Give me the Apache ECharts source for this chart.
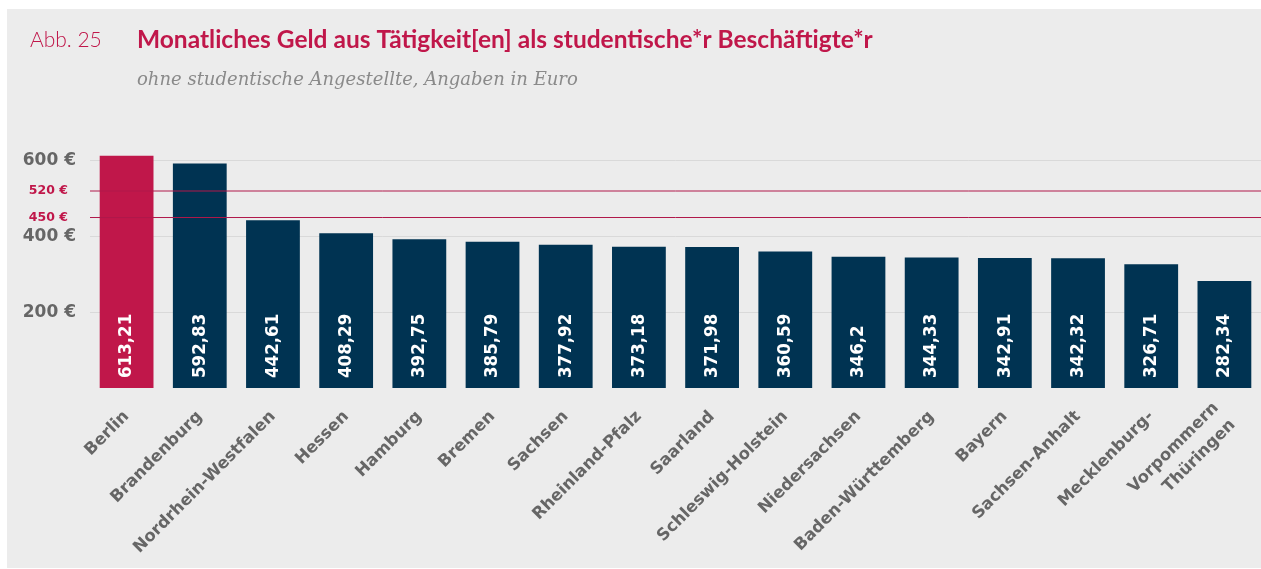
<!DOCTYPE html>
<html>
<head>
<meta charset="utf-8">
<script src="https://cdn.jsdelivr.net/npm/echarts@6/dist/echarts.min.js"></script>
<style>
  html, body { margin: 0; padding: 0; background: #fff; }
  #chart { width: 1261px; height: 569px; }
</style>
</head>
<body>
<div id="chart"></div>
<script>
const states = ['Berlin', 'Brandenburg', 'Nordrhein-Westfalen', 'Hessen', 'Hamburg', 'Bremen', 'Sachsen',
    'Rheinland-Pfalz', 'Saarland', 'Schleswig-Holstein', 'Niedersachsen', 'Baden-Württemberg', 'Bayern',
    'Sachsen-Anhalt', 'Mecklenburg-Vorpommern', 'Thüringen'];
// labels as printed under the bars (the original wraps the MV label onto the last bar)
const tickLabels = ['Berlin', 'Brandenburg', 'Nordrhein-Westfalen', 'Hessen', 'Hamburg', 'Bremen', 'Sachsen',
    'Rheinland-Pfalz', 'Saarland', 'Schleswig-Holstein', 'Niedersachsen', 'Baden-Württemberg', 'Bayern',
    'Sachsen-Anhalt', 'Mecklenburg-', 'Vorpommern\nThüringen'];
const amounts = [613.21, 592.83, 442.61, 408.29, 392.75, 385.79, 377.92, 373.18, 371.98, 360.59, 346.2,
    344.33, 342.91, 342.32, 326.71, 282.34];
const highlighted = ['Berlin'];
const refLines = [520, 450];
const gridValues = [200, 400, 600];

const crimson = '#c0174a';
const navy = '#003352';
const refColor = '#b0184a';
const gridColor = '#d9d9d9';

const chart = echarts.init(document.getElementById('chart'));

const fmt = (v) => String(v).replace('.', ',');

chart.setOption({
    backgroundColor: '#fff',
    animation: false,
    graphic: [{
        type: 'rect',
        z: -10,
        shape: { x: 7, y: 9, width: 1254, height: 559 },
        style: { fill: '#ececec' }
    }],
    title: [{
        left: 25,
        top: 25,
        text: 'Abb. 25',
        textStyle: { fontFamily: 'Lato', fontWeight: 300, fontSize: 21, color: crimson }
    }, {
        left: 132,
        top: 23,
        text: 'Monatliches Geld aus Tätigkeit[en] als studentische*r Beschäftigte*r',
        textStyle: { fontFamily: 'Lato', fontWeight: 'bold', fontSize: 24.5, color: crimson }
    }, {
        left: 132,
        top: 66,
        text: 'ohne studentische Angestellte, Angaben in Euro',
        textStyle: { fontFamily: 'DejaVu Serif', fontStyle: 'italic', fontWeight: 'normal', fontSize: 18, color: '#8a8a8a' }
    }],
    grid: { left: 90, top: 160.7, width: 1175, height: 227.3 },
    xAxis: {
        type: 'category',
        data: states,
        axisLine: { show: false },
        axisTick: { show: false },
        axisLabel: {
            interval: 0,
            rotate: 45,
            margin: 26,
            padding: [18, 0, 0, 0],
            fontFamily: 'DejaVu Sans',
            fontWeight: 'bold',
            fontSize: 16.5,
            color: '#666',
            lineHeight: 24,
            formatter: (v, i) => tickLabels[i]
        }
    },
    yAxis: {
        type: 'value',
        min: 0,
        max: 600,
        interval: 200,
        splitLine: { show: false },
        axisLine: { show: false },
        axisTick: { show: false },
        axisLabel: {
            margin: 14,
            fontFamily: 'DejaVu Sans',
            fontWeight: 'bold',
            fontSize: 17,
            color: '#666',
            formatter: (v) => v === 0 ? '' : v + ' €'
        }
    },
    series: [{
        // light grid lines behind the bars
        type: 'line',
        data: [],
        z: 1,
        color: gridColor,
        silent: true,
        markLine: {
            z: 1,
            silent: true,
            symbol: 'none',
            label: { show: false },
            lineStyle: { type: 'solid', color: gridColor, width: 1 },
            data: gridValues.map(v => ({ yAxis: v }))
        }
    }, {
        type: 'bar',
        z: 2,
        clip: false,
        barCategoryGap: '26.5%',
        data: amounts.map((v, i) => ({
            value: v,
            itemStyle: { color: highlighted.includes(states[i]) ? crimson : navy }
        })),
        label: {
            show: true,
            position: 'insideBottom',
            distance: 10,
            rotate: 90,
            align: 'left',
            verticalAlign: 'middle',
            fontFamily: 'DejaVu Sans Condensed',
            fontWeight: 'bold',
            fontSize: 18.5,
            color: '#fff',
            formatter: (p) => fmt(p.value)
        }
    }, {
        // 520 / 450 reference lines over the bars, placed through the y scale
        type: 'custom',
        z: 5,
        silent: true,
        data: refLines.map(v => [0, v]),
        encode: { x: 0, y: 1 },
        renderItem: (params, api) => {
            const cs = params.coordSys;
            const val = api.value(1);
            const y = api.coord([0, val])[1];
            return {
                type: 'group',
                children: [{
                    type: 'line',
                    shape: { x1: cs.x, y1: y, x2: cs.x + cs.width, y2: y },
                    style: { stroke: refColor, lineWidth: 1 }
                }, {
                    type: 'text',
                    style: {
                        x: cs.x - 22,
                        y: y,
                        text: val + ' €',
                        align: 'right',
                        verticalAlign: 'middle',
                        fill: crimson,
                        font: 'bold 12.5px "DejaVu Sans"'
                    }
                }]
            };
        }
    }]
});
</script>
</body>
</html>
